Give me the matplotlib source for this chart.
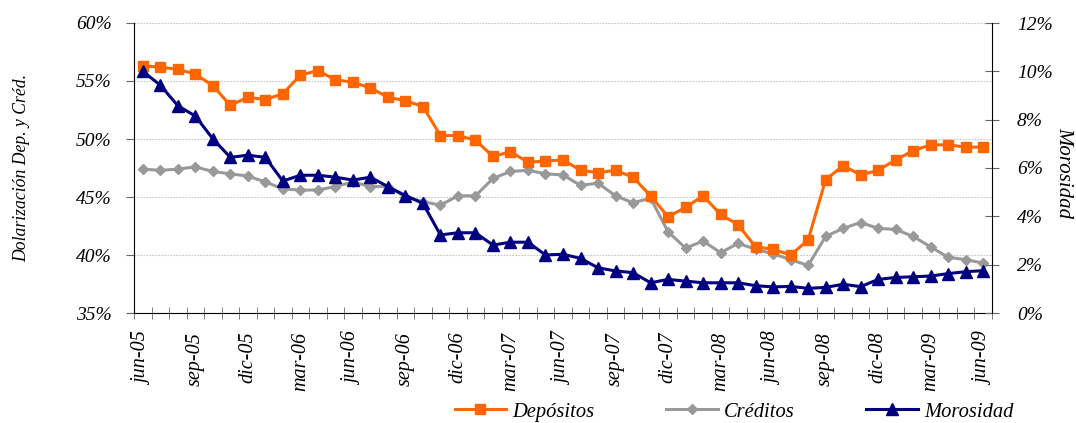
import matplotlib
matplotlib.use("Agg")
import matplotlib.pyplot as plt
from matplotlib.ticker import FuncFormatter, MultipleLocator, FixedLocator
from matplotlib.lines import Line2D

labels = ["jun-05", "jul-05", "ago-05", "sep-05", "oct-05", "nov-05", "dic-05",
          "ene-06", "feb-06", "mar-06", "abr-06", "may-06", "jun-06", "jul-06",
          "ago-06", "sep-06", "oct-06", "nov-06", "dic-06", "ene-07", "feb-07",
          "mar-07", "abr-07", "may-07", "jun-07", "jul-07", "ago-07", "sep-07",
          "oct-07", "nov-07", "dic-07", "ene-08", "feb-08", "mar-08", "abr-08",
          "may-08", "jun-08", "jul-08", "ago-08", "sep-08", "oct-08", "nov-08",
          "dic-08", "ene-09", "feb-09", "mar-09", "abr-09", "may-09", "jun-09"]

depositos = [56.3, 56.2, 56.0, 55.6, 54.6, 52.9, 53.6, 53.4, 53.9, 55.5,
             55.9, 55.1, 54.9, 54.4, 53.6, 53.3, 52.8, 50.3, 50.3, 49.9,
             48.5, 48.9, 48.0, 48.1, 48.2, 47.3, 47.1, 47.3, 46.7, 45.1,
             43.3, 44.1, 45.1, 43.5, 42.6, 40.7, 40.5, 40.0, 41.3, 46.5,
             47.7, 46.9, 47.3, 48.2, 49.0, 49.5, 49.5, 49.3, 49.3]
creditos = [47.4, 47.3, 47.4, 47.6, 47.2, 47.0, 46.8, 46.3, 45.7, 45.6,
            45.6, 45.9, 46.3, 45.9, 45.9, 45.0, 44.6, 44.3, 45.1, 45.1,
            46.6, 47.2, 47.3, 47.0, 46.9, 46.0, 46.2, 45.1, 44.5, 44.9,
            42.0, 40.6, 41.2, 40.2, 41.0, 40.5, 40.1, 39.6, 39.1, 41.6,
            42.3, 42.8, 42.3, 42.2, 41.6, 40.7, 39.8, 39.6, 39.3]
morosidad = [10.0, 9.43, 8.58, 8.15, 7.21, 6.44, 6.53, 6.44, 5.46, 5.70,
             5.70, 5.62, 5.50, 5.62, 5.23, 4.86, 4.54, 3.23, 3.32, 3.32,
             2.81, 2.93, 2.93, 2.40, 2.43, 2.26, 1.87, 1.74, 1.67, 1.25,
             1.39, 1.32, 1.25, 1.25, 1.25, 1.13, 1.08, 1.10, 1.02, 1.06,
             1.19, 1.09, 1.39, 1.47, 1.50, 1.53, 1.63, 1.71, 1.75]
series_names = ["Depósitos", "Créditos", "Morosidad"]

FONT = "Liberation Serif"
plt.rcParams["font.family"] = FONT
plt.rcParams["font.style"] = "italic"

fig = plt.figure(figsize=(10.76, 4.23), dpi=100)
ax = fig.add_axes([134 / 1076, 110 / 423, (992 - 134) / 1076, 290 / 423])
ax2 = ax.twinx()

x = list(range(len(depositos)))
c_dep, c_cre, c_mor = "#FF6600", "#999999", "#000080"

ax.plot(x, depositos, color=c_dep, lw=2.2, marker="s", ms=7.5, zorder=3)
ax.plot(x, creditos, color=c_cre, lw=2.2, marker="D", ms=5.5, zorder=2)
ax2.plot(x, morosidad, color=c_mor, lw=2.2, marker="^", ms=8, zorder=3)

ax.set_xlim(-0.5, len(x) - 0.5)
ax.set_ylim(35, 60)
ax2.set_ylim(0, 12)

ax.yaxis.set_major_locator(MultipleLocator(5))
ax2.yaxis.set_major_locator(MultipleLocator(2))
ax.yaxis.set_major_formatter(FuncFormatter(lambda v, p: f"{v:.0f}%"))
ax2.yaxis.set_major_formatter(FuncFormatter(lambda v, p: f"{v:.0f}%"))

ax.grid(axis="y", color="#C4C4C4", linestyle=(0, (1.5, 1.2)), linewidth=0.8)
ax.set_axisbelow(True)

ax.xaxis.set_minor_locator(FixedLocator([i - 0.5 for i in range(len(x) + 1)]))
ax.set_xticks(x[::3])
ax.set_xticklabels(labels[::3], rotation=90, fontsize=14.5)
ax.tick_params(axis="x", which="major", length=0, pad=13.5)
ax.tick_params(axis="x", which="minor", direction="inout", length=8, color="#666666")

ax.tick_params(axis="y", direction="out", length=6, labelsize=14, pad=10, color="#666666")
ax2.tick_params(axis="y", direction="inout", length=10, labelsize=14, pad=13, color="#666666")

ax.spines["top"].set_visible(False)
ax2.spines["top"].set_visible(False)
ax.spines["right"].set_visible(False)
ax2.spines["left"].set_visible(False)
ax2.spines["bottom"].set_visible(False)

fig.text(22 / 1076, 1 - 168 / 423, "Dolarización Dep. y Créd.", rotation=90,
         ha="center", va="center", fontsize=12.7)
fig.text(1064 / 1076, 1 - 173 / 423, "Morosidad", rotation=-90,
         ha="center", va="center", fontsize=15)

handles = [
    Line2D([], [], color=c_dep, lw=2.2, marker="s", ms=7.5),
    Line2D([], [], color=c_cre, lw=2.2, marker="D", ms=5.5),
    Line2D([], [], color=c_mor, lw=2.2, marker="^", ms=8),
]
fig.legend(handles, series_names, loc="center",
           bbox_to_anchor=(734 / 1076, 1 - 412 / 423), ncol=3, frameon=False,
           fontsize=14.8, handlelength=2.5, columnspacing=3.5, handletextpad=0.3,
           borderpad=0, borderaxespad=0)

fig.savefig("out.png", dpi=100)
